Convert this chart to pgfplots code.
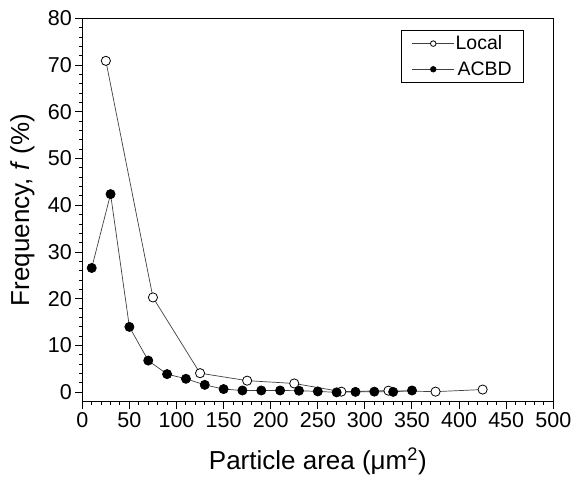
\documentclass[border=0pt]{standalone}
\usepackage{fontspec}
\setmainfont{Liberation Sans}
\usepackage{pgfplots}
\pgfplotsset{compat=1.18}
\begin{document}
\begin{tikzpicture}
\path[use as bounding box] (-82.3pt,-83.3pt) rectangle (490.7pt,401.7pt);
\begin{axis}[
  at={(0pt,0pt)}, anchor=south west,
  scale only axis, width=471pt, height=383.4pt,
  xmin=0, xmax=500, ymin=-2, ymax=80,
  xtick={0,50,...,500}, ytick={0,10,...,80},
  minor x tick num=4, minor y tick num=4,
  tick align=outside, tick pos=left,
  major tick length=7pt, minor tick length=3.5pt,
  tick style={black, line width=1pt},
  axis line style={line width=1.2pt},
  tick label style={font=\fontsize{21.5}{25}\selectfont},
  /pgf/number format/assume math mode=true,
  xlabel={Particle area (μm\textsuperscript{2})},
  ylabel={Frequency, \textit{f} (\%)},
  label style={font=\fontsize{26}{30}\selectfont},
  xlabel style={at={(axis description cs:0.5,-0.1547)}, anchor=center},
  ylabel style={at={(axis description cs:-0.127,0.5)}, anchor=center},
  legend style={at={(0.938,0.9695)}, anchor=north east, draw=black, line width=0.6pt,
    font=\fontsize{19.5}{22}\selectfont, inner xsep=11pt, inner ysep=3.5pt, row sep=6.3pt,
    nodes={inner xsep=1pt, inner ysep=2pt}},
  legend cell align=left,
  legend image code/.code={\draw[mark repeat=2,mark phase=2] plot coordinates {(0pt,0pt) (21pt,0pt) (42pt,0pt)};},
  legend image post style={mark size=2.8pt},
]
\addplot[black!75, line width=0.7pt, mark=*, mark size=4.6pt,
  mark options={fill=white, draw=black, line width=0.8pt}] coordinates {
  (25,70.9) (75,20.3) (125,4.1) (175,2.5) (225,1.9) (275,0.15) (325,0.36) (375,0.15) (425,0.6)
};
\addlegendentry{Local\hspace{8pt}}
\addplot[black!75, line width=0.7pt, mark=*, mark size=4.6pt,
  mark options={fill=black, draw=black}] coordinates {
  (10,26.6) (30,42.4) (50,14.0) (70,6.8) (90,3.9) (110,2.9) (130,1.6) (150,0.7) (170,0.4)
  (190,0.4) (210,0.4) (230,0.35) (250,0.2) (270,0.0) (290,0.1) (310,0.15) (330,0.1) (350,0.4)
};
\addlegendentry{\hspace{2pt}ACBD}
\end{axis}
\end{tikzpicture}
\end{document}
